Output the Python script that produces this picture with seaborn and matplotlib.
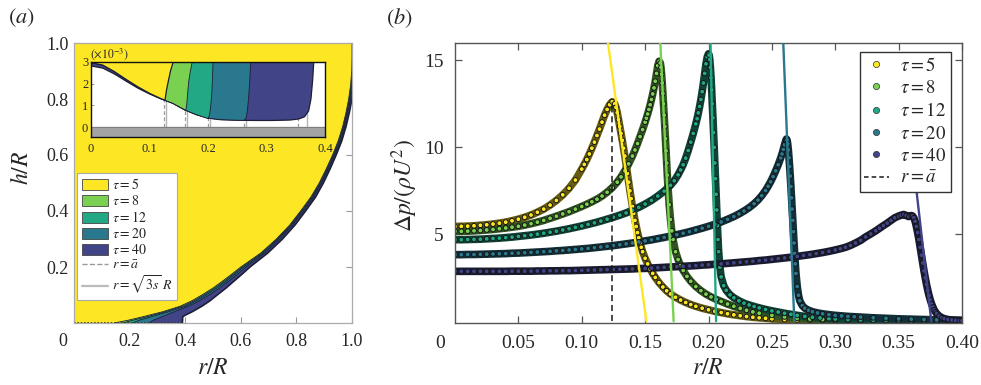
import numpy as np
import pandas as pd
import matplotlib
matplotlib.use('Agg')
import matplotlib.pyplot as plt
import matplotlib.colors as mcolors
import seaborn as sns
from matplotlib.patches import Patch
from matplotlib.lines import Line2D

sns.set_theme(style='ticks')
plt.rcParams['font.family'] = ['Liberation Serif', 'DejaVu Serif']
plt.rcParams['mathtext.fontset'] = 'stix'

# ---------------- data ----------------
taus = [5, 8, 12, 20, 40]
colors = ['#fde725', '#7ad151', '#22a884', '#2a788e', '#414487']
tau_labels = [r'$\tau = 5$', r'$\tau = 8$', r'$\tau = 12$', r'$\tau = 20$', r'$\tau = 40$']

# panel (b): pressure profiles
r_t5 = [0.000, 0.005, 0.010, 0.015, 0.020, 0.025, 0.030, 0.035, 0.040, 0.045,
        0.050, 0.055, 0.060, 0.065, 0.070, 0.075, 0.080, 0.085, 0.090, 0.095,
        0.100, 0.102, 0.104, 0.106, 0.108, 0.110, 0.112, 0.114, 0.116, 0.118,
        0.120, 0.122, 0.124, 0.126, 0.127, 0.128, 0.129, 0.130, 0.131, 0.132,
        0.133, 0.134, 0.135, 0.136, 0.137, 0.138, 0.139, 0.140, 0.141, 0.142,
        0.143, 0.144, 0.145, 0.146, 0.147, 0.148, 0.150, 0.152, 0.154, 0.156,
        0.158, 0.161, 0.164, 0.167, 0.170, 0.174, 0.178, 0.182, 0.186, 0.190,
        0.195, 0.200, 0.205, 0.210, 0.215, 0.220, 0.225, 0.230, 0.235, 0.240,
        0.245, 0.250, 0.260, 0.270, 0.280, 0.290, 0.300, 0.310, 0.320, 0.330,
        0.340, 0.350, 0.360, 0.370, 0.380, 0.390, 0.400]
dp_t5 = [5.45, 5.46, 5.47, 5.49, 5.52, 5.55, 5.59, 5.64, 5.70, 5.78,
         5.87, 5.98, 6.11, 6.27, 6.45, 6.68, 6.95, 7.27, 7.65, 8.12,
         8.75, 9.02, 9.30, 9.62, 9.95, 10.30, 10.68, 11.05, 11.45, 11.85,
         12.18, 12.45, 12.62, 12.50, 12.30, 12.00, 11.60, 11.20, 10.80, 10.40,
         9.95, 9.50, 9.00, 8.50, 8.00, 7.50, 7.05, 6.60, 6.20, 5.80,
         5.45, 5.10, 4.80, 4.50, 4.25, 4.00, 3.62, 3.30, 3.00, 2.75,
         2.52, 2.22, 1.97, 1.75, 1.57, 1.38, 1.22, 1.08, 0.96, 0.86,
         0.75, 0.66, 0.57, 0.50, 0.43, 0.37, 0.32, 0.27, 0.23, 0.20,
         0.17, 0.14, 0.10, 0.08, 0.06, 0.05, 0.04, 0.035, 0.03, 0.025,
         0.02, 0.02, 0.015, 0.015, 0.01, 0.01, 0.01]

r_t8 = [0.000, 0.005, 0.010, 0.015, 0.020, 0.025, 0.030, 0.035, 0.040, 0.045,
        0.050, 0.055, 0.060, 0.065, 0.070, 0.075, 0.080, 0.085, 0.090, 0.095,
        0.100, 0.104, 0.108, 0.112, 0.116, 0.120, 0.124, 0.128, 0.131, 0.134,
        0.137, 0.140, 0.142, 0.144, 0.146, 0.148, 0.150, 0.151, 0.152, 0.153,
        0.154, 0.155, 0.156, 0.157, 0.158, 0.159, 0.160, 0.161, 0.162, 0.1625,
        0.163, 0.1635, 0.164, 0.1645, 0.165, 0.1655, 0.166, 0.1665, 0.167, 0.1675,
        0.168, 0.169, 0.170, 0.171, 0.172, 0.174, 0.176, 0.178, 0.180, 0.183,
        0.186, 0.190, 0.194, 0.198, 0.202, 0.206, 0.210, 0.215, 0.220, 0.225,
        0.230, 0.235, 0.240, 0.250, 0.260, 0.270, 0.280, 0.290, 0.300, 0.310,
        0.320, 0.330, 0.340, 0.350, 0.360, 0.370, 0.380, 0.390, 0.400]
dp_t8 = [5.17, 5.17, 5.18, 5.20, 5.22, 5.25, 5.28, 5.32, 5.36, 5.41,
         5.46, 5.53, 5.61, 5.70, 5.80, 5.92, 6.04, 6.17, 6.30, 6.45,
         6.60, 6.73, 6.87, 7.02, 7.20, 7.42, 7.68, 8.00, 8.30, 8.65,
         9.05, 9.50, 9.85, 10.22, 10.62, 11.02, 11.45, 11.68, 11.92, 12.18,
         12.45, 12.75, 13.07, 13.42, 13.80, 14.25, 14.70, 14.95, 14.85, 14.60,
         14.20, 13.70, 13.10, 12.50, 11.85, 11.20, 10.50, 9.80, 9.10, 8.40,
         7.75, 6.70, 5.85, 5.20, 4.70, 4.00, 3.55, 3.20, 2.92, 2.58,
         2.30, 2.00, 1.76, 1.56, 1.40, 1.26, 1.14, 0.99, 0.86, 0.74,
         0.63, 0.54, 0.46, 0.34, 0.25, 0.18, 0.13, 0.10, 0.08, 0.06,
         0.05, 0.04, 0.035, 0.03, 0.025, 0.02, 0.02, 0.015, 0.015]

r_t12 = [0.000, 0.005, 0.010, 0.015, 0.020, 0.025, 0.030, 0.035, 0.040, 0.045,
         0.050, 0.055, 0.060, 0.065, 0.070, 0.075, 0.080, 0.085, 0.090, 0.095,
         0.100, 0.105, 0.110, 0.115, 0.120, 0.125, 0.130, 0.135, 0.140, 0.145,
         0.150, 0.155, 0.160, 0.165, 0.170, 0.173, 0.176, 0.178, 0.180, 0.182,
         0.184, 0.186, 0.188, 0.190, 0.191, 0.192, 0.193, 0.194, 0.195, 0.196,
         0.197, 0.198, 0.199, 0.200, 0.2005, 0.201, 0.2015, 0.202, 0.2025, 0.203,
         0.2035, 0.204, 0.2045, 0.205, 0.2055, 0.206, 0.2065, 0.207, 0.2075, 0.208,
         0.209, 0.210, 0.212, 0.214, 0.217, 0.220, 0.224, 0.228, 0.232, 0.236,
         0.240, 0.245, 0.250, 0.255, 0.260, 0.265, 0.270, 0.276, 0.282, 0.288,
         0.295, 0.300, 0.310, 0.320, 0.330, 0.340, 0.350, 0.360, 0.370, 0.380,
         0.390, 0.400]
dp_t12 = [4.69, 4.69, 4.70, 4.71, 4.72, 4.74, 4.76, 4.78, 4.81, 4.84,
          4.88, 4.92, 4.96, 5.01, 5.06, 5.12, 5.18, 5.25, 5.32, 5.40,
          5.48, 5.57, 5.66, 5.76, 5.87, 5.98, 6.10, 6.23, 6.38, 6.55,
          6.74, 6.95, 7.20, 7.48, 7.82, 8.08, 8.42, 8.70, 9.00, 9.38,
          9.82, 10.30, 10.80, 11.35, 11.65, 11.98, 12.35, 12.75, 13.20, 13.70,
          14.25, 14.80, 15.20, 15.38, 15.30, 15.05, 14.60, 14.00, 13.30, 12.50,
          11.70, 10.85, 10.00, 9.10, 8.20, 7.30, 6.40, 5.50, 4.70, 4.00,
          3.10, 2.55, 2.05, 1.78, 1.52, 1.35, 1.18, 1.04, 0.94, 0.85,
          0.77, 0.68, 0.60, 0.53, 0.46, 0.40, 0.34, 0.28, 0.23, 0.19,
          0.15, 0.13, 0.10, 0.08, 0.06, 0.05, 0.04, 0.035, 0.03, 0.025,
          0.02, 0.02]

r_t20 = [0.000, 0.005, 0.010, 0.015, 0.020, 0.025, 0.030, 0.035, 0.040, 0.045,
         0.050, 0.055, 0.060, 0.065, 0.070, 0.075, 0.080, 0.085, 0.090, 0.095,
         0.100, 0.105, 0.110, 0.115, 0.120, 0.125, 0.130, 0.135, 0.140, 0.145,
         0.150, 0.155, 0.160, 0.165, 0.170, 0.175, 0.180, 0.185, 0.190, 0.195,
         0.200, 0.205, 0.210, 0.215, 0.220, 0.224, 0.228, 0.232, 0.236, 0.239,
         0.242, 0.245, 0.247, 0.249, 0.251, 0.253, 0.255, 0.257, 0.258, 0.259,
         0.260, 0.261, 0.2615, 0.262, 0.2625, 0.263, 0.2635, 0.264, 0.2645, 0.265,
         0.2655, 0.266, 0.2665, 0.267, 0.2675, 0.268, 0.2685, 0.269, 0.270, 0.271,
         0.272, 0.274, 0.276, 0.279, 0.282, 0.286, 0.290, 0.295, 0.300, 0.305,
         0.310, 0.315, 0.320, 0.330, 0.340, 0.350, 0.360, 0.370, 0.380, 0.390,
         0.400]
dp_t20 = [3.83, 3.83, 3.84, 3.84, 3.85, 3.86, 3.87, 3.88, 3.89, 3.91,
          3.92, 3.94, 3.96, 3.98, 4.00, 4.02, 4.05, 4.07, 4.10, 4.13,
          4.16, 4.19, 4.23, 4.27, 4.31, 4.35, 4.40, 4.45, 4.50, 4.56,
          4.62, 4.68, 4.75, 4.82, 4.90, 4.98, 5.06, 5.15, 5.25, 5.35,
          5.46, 5.58, 5.71, 5.86, 6.02, 6.17, 6.34, 6.53, 6.76, 6.97,
          7.22, 7.52, 7.76, 8.02, 8.32, 8.65, 9.00, 9.40, 9.62, 9.88,
          10.15, 10.40, 10.48, 10.42, 10.20, 9.85, 9.40, 8.90, 8.35, 7.75,
          7.10, 6.45, 5.80, 5.15, 4.50, 3.90, 3.30, 2.75, 2.00, 1.50,
          1.18, 0.90, 0.75, 0.63, 0.55, 0.48, 0.43, 0.38, 0.34, 0.31,
          0.28, 0.26, 0.24, 0.20, 0.17, 0.14, 0.12, 0.10, 0.08, 0.07,
          0.06]

r_t40 = [0.000, 0.005, 0.010, 0.015, 0.020, 0.025, 0.030, 0.035, 0.040, 0.045,
         0.050, 0.055, 0.060, 0.065, 0.070, 0.075, 0.080, 0.085, 0.090, 0.095,
         0.100, 0.105, 0.110, 0.115, 0.120, 0.125, 0.130, 0.135, 0.140, 0.145,
         0.150, 0.155, 0.160, 0.165, 0.170, 0.175, 0.180, 0.185, 0.190, 0.195,
         0.200, 0.205, 0.210, 0.215, 0.220, 0.225, 0.230, 0.235, 0.240, 0.245,
         0.250, 0.255, 0.260, 0.265, 0.270, 0.275, 0.280, 0.285, 0.290, 0.295,
         0.300, 0.304, 0.308, 0.312, 0.316, 0.320, 0.324, 0.328, 0.332, 0.335,
         0.338, 0.341, 0.344, 0.347, 0.350, 0.352, 0.354, 0.356, 0.358, 0.360,
         0.361, 0.362, 0.363, 0.364, 0.365, 0.366, 0.367, 0.368, 0.369, 0.370,
         0.371, 0.372, 0.373, 0.374, 0.375, 0.376, 0.377, 0.378, 0.379, 0.380,
         0.382, 0.384, 0.386, 0.389, 0.392, 0.395, 0.398, 0.400]
dp_t40 = [2.87, 2.87, 2.87, 2.87, 2.87, 2.87, 2.87, 2.87, 2.87, 2.88,
          2.88, 2.88, 2.88, 2.89, 2.89, 2.90, 2.90, 2.91, 2.91, 2.92,
          2.93, 2.94, 2.95, 2.96, 2.97, 2.98, 2.99, 3.00, 3.01, 3.03,
          3.04, 3.06, 3.08, 3.10, 3.12, 3.14, 3.16, 3.18, 3.20, 3.23,
          3.25, 3.28, 3.30, 3.33, 3.36, 3.39, 3.42, 3.45, 3.49, 3.52,
          3.56, 3.60, 3.64, 3.68, 3.73, 3.78, 3.83, 3.89, 3.95, 4.02,
          4.10, 4.17, 4.25, 4.36, 4.50, 4.65, 4.85, 5.02, 5.20, 5.35,
          5.50, 5.64, 5.80, 5.95, 6.05, 6.10, 6.14, 6.08, 6.02, 6.08,
          6.05, 5.95, 5.75, 5.45, 5.10, 4.70, 4.25, 3.80, 3.35, 2.90,
          2.50, 2.12, 1.78, 1.48, 1.22, 1.00, 0.82, 0.66, 0.54, 0.44,
          0.30, 0.21, 0.15, 0.10, 0.07, 0.05, 0.04, 0.03]

# straight reference lines in (b): r at the top and at dp = 0
line_r_top = [0.1207, 0.1620, 0.2016, 0.2590, 0.3602]
line_dp_top = [16.0, 16.0, 16.0, 16.0, 10.0]
line_r_bot = [0.1510, 0.1725, 0.2060, 0.2677, 0.3758]
line_dp_bot = [0.0, 0.0, 0.0, 0.0, 0.0]

# r = a-bar and r = sqrt(3s) R
abar = [0.124, 0.161, 0.200, 0.262, 0.354]
sqrt3s = [0.128, 0.164, 0.203, 0.265, 0.369]

# panel (a): drop outer outlines (r at given h)
edge_h = [0.0, 0.01, 0.02, 0.04, 0.06, 0.08, 0.10, 0.125, 0.15, 0.175, 0.20,
          0.25, 0.30, 0.35, 0.40, 0.45, 0.50, 0.55, 0.60, 0.65, 0.70, 0.75,
          0.80, 0.85, 0.90, 0.95, 1.0]
edge_r5 = [0.145, 0.195, 0.238, 0.318, 0.382, 0.425, 0.460, 0.500, 0.535, 0.568, 0.600,
           0.672, 0.728, 0.776, 0.815, 0.852, 0.882, 0.907, 0.930, 0.950, 0.966, 0.978,
           0.988, 0.995, 0.999, 1.000, 1.000]
edge_r8 = [0.175, 0.212, 0.253, 0.328, 0.391, 0.433, 0.467, 0.507, 0.541, 0.574, 0.605,
           0.676, 0.731, 0.779, 0.818, 0.855, 0.884, 0.909, 0.932, 0.952, 0.968, 0.980,
           0.990, 0.997, 1.001, 1.002, 1.002]
edge_r12 = [0.210, 0.235, 0.270, 0.340, 0.400, 0.441, 0.475, 0.514, 0.548, 0.580, 0.611,
            0.680, 0.735, 0.782, 0.821, 0.858, 0.887, 0.912, 0.935, 0.955, 0.970, 0.982,
            0.992, 0.999, 1.003, 1.004, 1.004]
edge_r20 = [0.270, 0.285, 0.310, 0.360, 0.412, 0.452, 0.486, 0.524, 0.557, 0.589, 0.619,
            0.686, 0.740, 0.786, 0.825, 0.862, 0.890, 0.915, 0.938, 0.958, 0.973, 0.985,
            0.995, 1.002, 1.005, 1.006, 1.006]
edge40_h = [0.0, 0.022, 0.028, 0.04, 0.06, 0.08, 0.10, 0.125, 0.15, 0.175, 0.20,
            0.25, 0.30, 0.35, 0.40, 0.45, 0.50, 0.55, 0.60, 0.65, 0.70, 0.75,
            0.80, 0.85, 0.90, 0.95, 1.0]
edge40_r = [0.390, 0.391, 0.400, 0.425, 0.460, 0.490, 0.515, 0.547, 0.576, 0.605, 0.633,
            0.697, 0.750, 0.795, 0.833, 0.869, 0.897, 0.921, 0.943, 0.963, 0.978, 0.990,
            1.000, 1.006, 1.009, 1.010, 1.010]

# inset: gap profiles (h in units of 1e-3) and fronts
in_r5 = [0.00, 0.02, 0.04, 0.06, 0.08, 0.10, 0.12, 0.1265, 0.129, 0.132, 0.136, 0.1405]
in_h5 = [2.97, 2.86, 2.56, 2.20, 1.86, 1.56, 1.31, 1.25, 1.70, 2.10, 2.60, 3.00]
in_r8 = [0.00, 0.02, 0.04, 0.06, 0.08, 0.10, 0.12, 0.14, 0.162, 0.1635, 0.165, 0.167, 0.170, 0.173]
in_h8 = [2.97, 2.86, 2.56, 2.20, 1.86, 1.56, 1.31, 1.10, 0.78, 1.00, 1.50, 2.10, 2.60, 3.00]
in_r12 = [0.00, 0.02, 0.04, 0.06, 0.08, 0.10, 0.12, 0.14, 0.16, 0.18, 0.200, 0.2025, 0.2045, 0.2065, 0.2078, 0.2085]
in_h12 = [2.97, 2.86, 2.56, 2.20, 1.86, 1.56, 1.31, 1.10, 0.80, 0.58, 0.40, 0.55, 0.90, 1.60, 2.30, 3.00]
in_r20 = [0.00, 0.02, 0.04, 0.06, 0.08, 0.10, 0.12, 0.14, 0.16, 0.18, 0.20, 0.22, 0.25, 0.262, 0.2655, 0.2675, 0.2695, 0.2715, 0.273]
in_h20 = [2.97, 2.86, 2.56, 2.20, 1.86, 1.56, 1.31, 1.10, 0.80, 0.58, 0.42, 0.35, 0.32, 0.32, 0.45, 0.80, 1.40, 2.20, 3.00]
in_r40 = [0.00, 0.02, 0.04, 0.06, 0.08, 0.10, 0.12, 0.14, 0.16, 0.18, 0.20, 0.22, 0.25, 0.28, 0.31, 0.34, 0.355, 0.365, 0.372, 0.376, 0.379, 0.381]
in_h40 = [2.82, 2.72, 2.45, 2.12, 1.80, 1.53, 1.30, 1.10, 0.80, 0.58, 0.42, 0.35, 0.32, 0.31, 0.31, 0.33, 0.38, 0.48, 0.75, 1.30, 2.20, 3.10]

# ---------------- figure ----------------
W, H = 981, 385
fig = plt.figure(figsize=(W / 100, H / 100), dpi=100)


def fx(px):
    return px / W


def fy(py):
    return 1 - py / H


axa = fig.add_axes([fx(74), fy(323), (352 - 74) / W, (323 - 43) / H])
axb = fig.add_axes([fx(455), fy(323), (962 - 455) / W, (323 - 43) / H])

# ---------- panel (a) ----------
edges = [(edge_r5, edge_h), (edge_r8, edge_h), (edge_r12, edge_h),
         (edge_r20, edge_h), (edge40_r, edge40_h)]
for i in reversed(range(len(taus))):
    r_e, h_e = edges[i]
    xs = [0.0] + list(r_e) + [0.0]
    ys = [0.0] + list(h_e) + [h_e[-1]]
    z = 1.0 + (len(taus) - 1 - i) * 0.1
    axa.fill(xs, ys, facecolor=colors[i], edgecolor='none', zorder=z)
    axa.plot(r_e, h_e, color='#1d1d35', lw=1.2 if i == 4 else 0.6, zorder=z + 0.05,
             solid_joinstyle='round')
axa.plot([0, edge40_r[0]], [0, 0], color='#222222', lw=1.2, ls=(0, (1, 1)), zorder=2)

axa.set_xlim(0, 1)
axa.set_ylim(0, 1)
tk = [0.2, 0.4, 0.6, 0.8, 1.0]
axa.set_xticks(tk)
axa.set_xticklabels(['0.2', '0.4', '0.6', '0.8', '1.0'])
axa.set_yticks(tk)
axa.set_yticklabels(['0.2', '0.4', '0.6', '0.8', '1.0'])
axa.set_axisbelow(True)
axa.tick_params(direction='in', length=4, width=0.8, color='#999999',
                labelsize=13, top=True, right=True)
axa.tick_params(axis='x', pad=7)
axa.tick_params(axis='y', pad=4)
for sp in axa.spines.values():
    sp.set_color('#aaaaaa')
    sp.set_linewidth(0.9)

handles_a = [Patch(facecolor=c, edgecolor='#444444', linewidth=0.6) for c in colors]
handles_a += [Line2D([], [], color='#999999', ls='--', lw=1.0),
              Line2D([], [], color='#bbbbbb', lw=1.6)]
labels_a = tau_labels + [r'$r = \bar{a}$', r'$r = \sqrt{3s}\;R$']
leg_a = axa.legend(handles_a, labels_a, loc='upper left', bbox_to_anchor=(0.012, 0.535),
                   fontsize=10, frameon=True, fancybox=False, framealpha=1,
                   edgecolor='#aaaaaa', handlelength=1.9, handleheight=0.8,
                   handletextpad=0.3, labelspacing=0.14, borderpad=0.3, borderaxespad=0)
leg_a.get_frame().set_linewidth(0.8)
leg_a.set_zorder(5)

# inset
axi = fig.add_axes([fx(91), fy(137), (325 - 91) / W, (137 - 62) / H])
INSET_TOP = 3.0
axi.set_xlim(0, 0.4)
axi.set_ylim(-0.45, INSET_TOP)
axi.axhspan(-0.45, 0, color='#a3a3a3', zorder=2)
axi.axhline(0, color='#777777', lw=0.6, zorder=2.1)
axi.vlines(abar, 0, INSET_TOP, colors='#9a9a9a', linestyles=(0, (3, 2)), lw=0.9, zorder=0.8)
axi.vlines(sqrt3s, 0, INSET_TOP, colors='#b5b5b5', lw=1.0, zorder=0.8)
inset_sets = [(in_r5, in_h5), (in_r8, in_h8), (in_r12, in_h12), (in_r20, in_h20), (in_r40, in_h40)]
for i in reversed(range(len(taus))):
    r_e, h_e = inset_sets[i]
    xs = list(r_e) + [0.0]
    ys = list(h_e) + [INSET_TOP]
    z = 1.0 + (len(taus) - 1 - i) * 0.1
    axi.fill(xs, ys, facecolor=colors[i], edgecolor='none', zorder=z)
    axi.plot(r_e, h_e, color='#1d1d35', lw=0.9 if i in (0, 4) else 0.6, zorder=z + 0.05)
axi.set_xticks([0, 0.1, 0.2, 0.3, 0.4])
axi.set_xticklabels(['0', '0.1', '0.2', '0.3', '0.4'])
axi.set_yticks([0, 1, 2, 3])
axi.set_yticklabels(['0', '1', '2', '3'])
axi.tick_params(direction='in', length=2, width=0.6, color='#888888', labelsize=9, pad=2)
axi.tick_params(axis='x', pad=4)
for sp in axi.spines.values():
    sp.set_color('#111111')
    sp.set_linestyle((0, (1, 1)))
    sp.set_linewidth(1.0)
    sp.set_zorder(4)
axi.text(-0.005, 1.0, r'$(\times 10^{-3})$', transform=axi.transAxes, ha='left',
         va='bottom', fontsize=8.5)

# ---------- panel (b) ----------
series_r = [r_t5, r_t8, r_t12, r_t20, r_t40]
series_dp = [dp_t5, dp_t8, dp_t12, dp_t20, dp_t40]
df = pd.concat([pd.DataFrame({'r': r, 'dp': d, 'tau': t})
                for r, d, t in zip(series_r, series_dp, taus)], ignore_index=True)
dark = {t: tuple(0.40 * v for v in mcolors.to_rgb(c)) for t, c in zip(taus, colors)}
sns.lineplot(data=df, x='r', y='dp', hue='tau', palette=dark, lw=5.5, sort=False,
             estimator=None, legend=False, ax=axb, zorder=1.8)
sns.scatterplot(data=df, x='r', y='dp', hue='tau', palette=dict(zip(taus, colors)),
                s=12, edgecolor='#151515', linewidth=0.7, legend=False, ax=axb, zorder=2)
for i in range(len(taus)):
    axb.plot([line_r_top[i], line_r_bot[i]], [line_dp_top[i], line_dp_bot[i]],
             color=colors[i], lw=1.7, zorder=3)
axb.plot([abar[0], abar[0]], [0, max(dp_t5)], color='k', ls=(0, (4, 2.5)), lw=1.1, zorder=3)

axb.set_xlim(0, 0.4)
axb.set_ylim(-0.1, 16)
xt = [0.05, 0.10, 0.15, 0.20, 0.25, 0.30, 0.35, 0.40]
axb.set_xticks(xt)
axb.set_xticklabels(['%.2f' % v for v in xt])
axb.set_yticks([5, 10, 15])
axb.set_yticklabels(['5', '10', '15'])
axb.set_xlabel('')
axb.set_ylabel('')
axb.tick_params(direction='in', length=5, width=0.9, color='#555555',
                labelsize=14, top=True, right=True)
axb.tick_params(axis='x', pad=9)
axb.tick_params(axis='y', pad=8)
for sp in axb.spines.values():
    sp.set_color('#555555')
    sp.set_linewidth(1.0)

handles_b = [Line2D([], [], marker='o', ls='none', markerfacecolor=c, markeredgecolor='#333333',
                    markeredgewidth=0.5, markersize=4.5) for c in colors]
handles_b.append(Line2D([], [], color='k', ls=(0, (3, 2)), lw=1.1))
labels_b = tau_labels + [r'$r = \bar{a}$']
leg_b = axb.legend(handles_b, labels_b, loc='upper right', bbox_to_anchor=(0.978, 0.968),
                   fontsize=13.5, frameon=True, fancybox=False, framealpha=1,
                   edgecolor='#333333', handlelength=1.3, handletextpad=0.6,
                   labelspacing=0.28, borderpad=0.25, borderaxespad=0)
leg_b.get_frame().set_linewidth(1.0)
leg_b.set_zorder(6)

# ---------- texts ----------
fig.text(fx(21), fy(18), r'$(a)$', ha='center', va='center', fontsize=16)
fig.text(fx(399), fy(18), r'$(b)$', ha='center', va='center', fontsize=16)
fig.text(fx(63), fy(341), '0', ha='center', va='center', fontsize=13)
fig.text(fx(440), fy(343), '0', ha='center', va='center', fontsize=14)
fig.text(fx(213), fy(368), r'$r/R$', ha='center', va='center', fontsize=17)
fig.text(fx(708), fy(368), r'$r/R$', ha='center', va='center', fontsize=17)
fig.text(fx(22), fy(168), r'$h/R$', ha='center', va='center', rotation=90, fontsize=17)
fig.text(fx(405), fy(185), r'$\Delta p/(\rho U^2)$', ha='center', va='center', rotation=90, fontsize=17)

fig.savefig('out.png', dpi=100)
